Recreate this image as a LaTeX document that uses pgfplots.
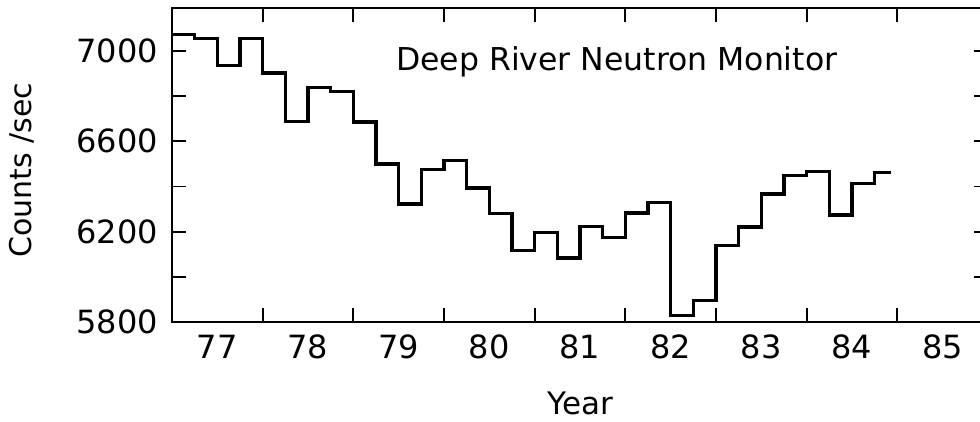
\documentclass[border=0pt]{standalone}
\usepackage{fontspec}
\setmainfont{DejaVu Sans}
\usepackage{pgfplots}
\pgfplotsset{compat=1.18}
\begin{document}
\begin{tikzpicture}
\path[use as bounding box] (-172pt,-100pt) rectangle (808pt,322pt);
\begin{axis}[
  at={(0,0)}, anchor=south west,
  scale only axis, width=816pt, height=314pt,
  xmin=77, xmax=86, ymin=5800, ymax=7190,
  axis line style={line width=1.8pt},
  tick style={line width=1.8pt, black},
  tick align=inside,
  xtick={78,79,...,86},
  xticklabels={77,78,79,80,81,82,83,84,85},
  ytick={5800,6000,...,7000},
  yticklabels={5800,,6200,,6600,,7000},
  major tick length=14pt,
  xticklabel style={font=\fontsize{32}{36}\selectfont, inner sep=0pt, anchor=north, xshift=-45.33pt, yshift=-13pt},
  yticklabel style={font=\fontsize{32}{36}\selectfont, inner sep=0pt, anchor=east, xshift=-14pt},
  xlabel={Year},
  ylabel={Counts /sec},
  every axis x label/.style={at={(axis description cs:0.5,0)}, anchor=center, yshift=-81pt, font=\fontsize{31}{36}\selectfont},
  every axis y label/.style={at={(axis description cs:-0.1838,0.484)}, anchor=center, rotate=90, font=\fontsize{30}{36}\selectfont},
]
\addplot[const plot, black, line width=3.4pt, line join=miter] coordinates {
(77.00,7072) (77.25,7056) (77.50,6935) (77.75,7056)
(78.00,6903) (78.25,6687) (78.50,6839) (78.75,6820)
(79.00,6685) (79.25,6500) (79.50,6323) (79.75,6475)
(80.00,6515) (80.25,6393) (80.50,6279) (80.75,6116)
(81.00,6195) (81.25,6083) (81.50,6222) (81.75,6175)
(82.00,6283) (82.25,6330) (82.50,5828) (82.75,5895)
(83.00,6139) (83.25,6220) (83.50,6367) (83.75,6448)
(84.00,6466) (84.25,6274) (84.50,6412) (84.75,6463)
(84.93,6463)
};
\node[anchor=west, inner sep=0pt, font=\fontsize{31.5}{36}\selectfont] at (axis cs:79.47,6950) {Deep River Neutron Monitor};
\end{axis}
\end{tikzpicture}
\end{document}
